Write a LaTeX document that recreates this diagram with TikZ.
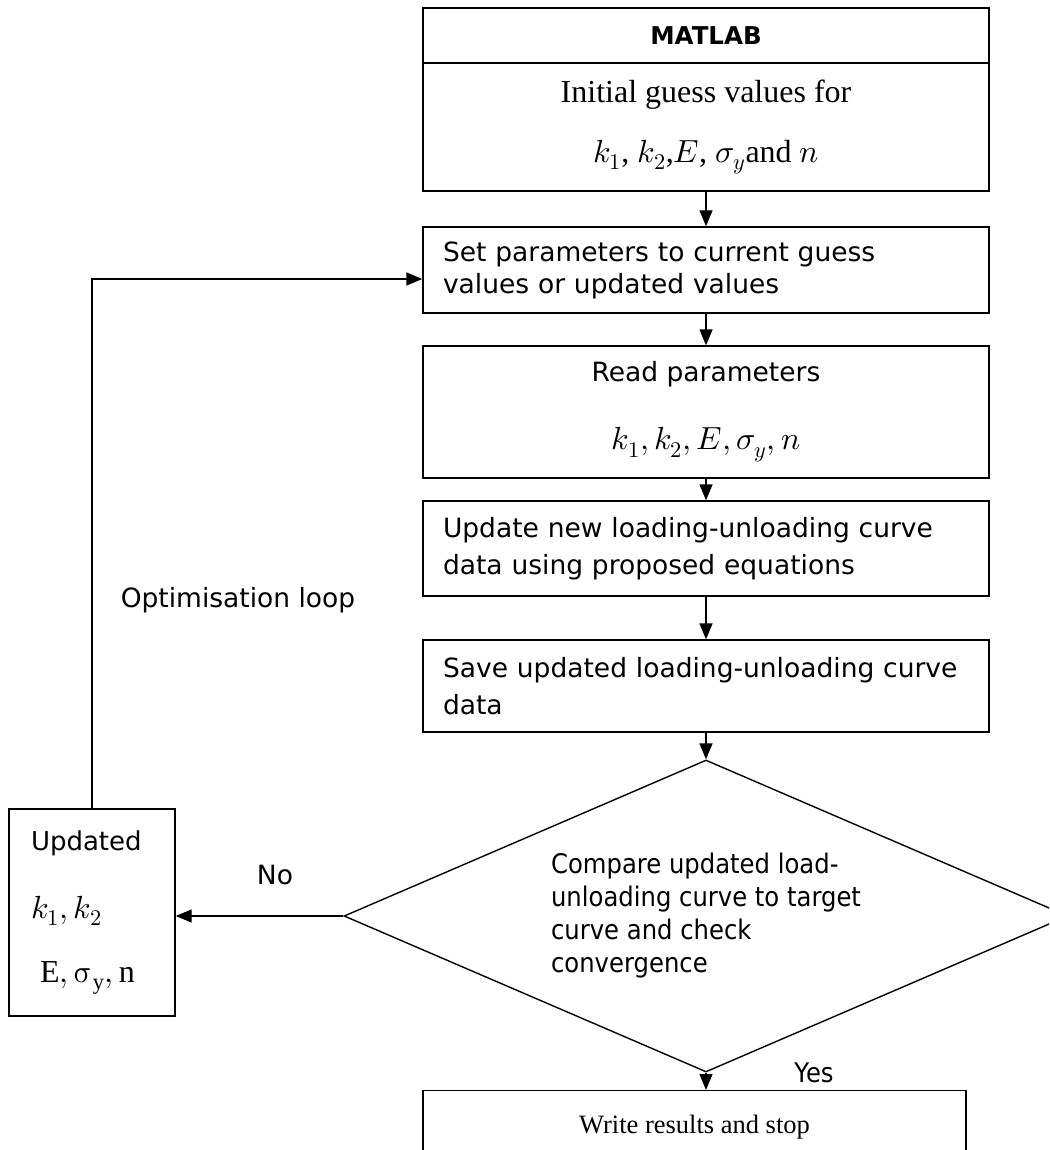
\documentclass[tikz,border=0pt]{standalone}
\usepackage{fontspec}
\usepackage{unicode-math}
\setmainfont{Liberation Serif}
\setsansfont{DejaVu Sans}
\setmathfont{Latin Modern Math}
\newfontfamily\narrowsans[FakeStretch=0.9]{DejaVu Sans}
\usetikzlibrary{arrows.meta,shapes.geometric}

\begin{document}
\begin{tikzpicture}[x=1pt,y=-1pt,
  box/.style={draw,line width=1.4pt,minimum width=566pt,inner sep=0pt,font=\sffamily\fontsize{26.5}{32}\selectfont},
  flow/.style={line width=1.4pt,-{Triangle[length=16pt,width=13pt]}}]
  \useasboundingbox (0,0) rectangle (1049,1150);
  \clip (0,0) rectangle (1049,1150);
  % main column
  \node[box,minimum height=55pt,font=\sffamily\bfseries\fontsize{24.5}{28}\selectfont] (head) at (706,35.5) {MATLAB};
  \node[box,minimum height=128pt,font=\fontsize{32}{36}\selectfont,align=center] (init) at (706,127) {Initial guess values for\\[24pt] $k_1$, $k_2$,$E$, $\sigma_y$and $n$};
  \node[box,minimum height=86pt,text width=526pt,align=left] (setp) at (706,270) {Set parameters to current guess\\values or updated values};
  \node[box,minimum height=132pt,align=center] (readp) at (706,412) {Read parameters\\[36pt] {\fontsize{32}{32}\selectfont$k_1, k_2, E, \sigma_y, n$}};
  \node[box,minimum height=95pt,text width=526pt,align=left,font=\sffamily\fontsize{26.5}{37}\selectfont] (upd) at (706,548.5) {Update new loading-unloading curve\\data using proposed equations};
  \node[box,minimum height=92pt,text width=526pt,align=left,font=\sffamily\fontsize{26.5}{37}\selectfont] (save) at (706,686) {Save updated loading-unloading curve\\data};
  \node[draw,diamond,aspect=2.32,minimum width=724pt,minimum height=312pt,inner sep=0pt,line width=1.4pt,align=left,font=\narrowsans\fontsize{27}{33}\selectfont] (cmp) at (706,916) {Compare updated load-\\unloading curve to target\\curve and check\\convergence};
  \node[box,minimum width=543pt,minimum height=80pt,anchor=north,font=\rmfamily\fontsize{26.5}{28}\selectfont] (wrt) at (694.5,1090) {\raisebox{12pt}{Write results and stop}};
  % loop box
  \node[box,minimum width=166pt,minimum height=207pt,text width=122pt,align=left,font=\sffamily\fontsize{26}{32}\selectfont] (updp) at (92,912.5) {Updated\\[36pt] {\fontsize{32}{32}\selectfont$k_1, k_2$}\\[32pt] \hspace*{9pt}{\fontsize{32}{32}\selectfont$\mathrm{E}, \symup{\sigma}_{\mathrm{y}}, \mathrm{n}$}};
  % connectors
  \draw[flow] (init.south) -- (setp.north);
  \draw[flow] (setp.south) -- (readp.north);
  \draw[flow] (readp.south) -- (upd.north);
  \draw[flow] (upd.south) -- (save.north);
  \draw[flow] (save.south) -- (cmp.north);
  \draw[flow] (cmp.south) -- (cmp.south |- wrt.north);
  \draw[flow] (cmp.west) -- (cmp.west -| updp.east);
  \draw[flow] (updp.north) |- ([yshift=-9pt]setp.west);
  % labels
  \node[font=\sffamily\fontsize{26.5}{30}\selectfont] (nolbl) at (275,875) {No};
  \node[font=\narrowsans\fontsize{27}{30}\selectfont] (yeslbl) at (814,1073) {Yes};
  \node[font=\sffamily\fontsize{26.5}{30}\selectfont] (looplbl) at (238,600) {Optimisation loop};
\end{tikzpicture}
\end{document}
